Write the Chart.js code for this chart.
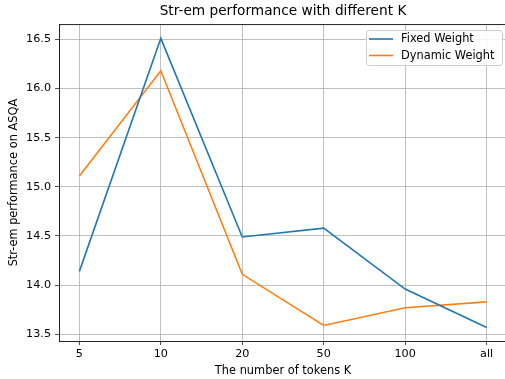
<!DOCTYPE html>
<html>
<head>
<meta charset="utf-8">
<script src="https://cdn.jsdelivr.net/npm/chart.js@4"></script>
<style>
  html, body { margin: 0; padding: 0; background: #fff; }
  #wrap { width: 505px; height: 379px; overflow: hidden; }
</style>
</head>
<body>
<div id="wrap"><canvas id="chart" width="510" height="379"></canvas></div>
<script>
// x categories (number of tokens K)
const kLabels = ['5', '10', '20', '50', '100', 'all'];

// series values
const fixedWeight = [14.14, 16.51, 14.49, 14.58, 13.96, 13.57];
const dynamicWeight = [15.11, 16.18, 14.11, 13.59, 13.77, 13.83];

const yTicks = [13.5, 14.0, 14.5, 15.0, 15.5, 16.0, 16.5];

const font = "'DejaVu Sans', sans-serif";

// top spine + legend in the top right corner, like matplotlib
const framePlugin = {
    id: 'frame',
    afterDraw(chart) {
        const ctx = chart.ctx;
        const a = chart.chartArea;
        ctx.save();
        ctx.strokeStyle = '#222';
        ctx.lineWidth = 1;
        ctx.beginPath();
        ctx.moveTo(a.left, a.top + 0.5);
        ctx.lineTo(a.right, a.top + 0.5);
        ctx.stroke();

        // legend
        const bx = 366, by = 30, bw = 136, bh = 35;
        ctx.fillStyle = 'rgba(255,255,255,0.85)';
        ctx.strokeStyle = '#cccccc';
        ctx.lineWidth = 1;
        ctx.beginPath();
        ctx.roundRect(bx + 0.5, by + 0.5, bw, bh, 3);
        ctx.fill();
        ctx.stroke();
        ctx.font = '11.4px ' + font;
        ctx.textBaseline = 'middle';
        chart.data.datasets.forEach((ds, i) => {
            const y = by + 9 + i * 16.5;
            ctx.strokeStyle = ds.borderColor;
            ctx.lineWidth = 1.6;
            ctx.beginPath();
            ctx.moveTo(bx + 3, y);
            ctx.lineTo(bx + 27, y);
            ctx.stroke();
            ctx.fillStyle = '#000';
            ctx.fillText(ds.label, bx + 35, y + 0.5);
        });
        ctx.restore();
    }
};

const ctx = document.getElementById('chart').getContext('2d');

new Chart(ctx, {
    type: 'line',
    data: {
        datasets: [{
            label: 'Fixed Weight',
            data: fixedWeight.map((v, i) => ({ x: i, y: v })),
            borderColor: '#1f77b4',
            borderWidth: 1.6,
            pointRadius: 0,
            tension: 0
        }, {
            label: 'Dynamic Weight',
            data: dynamicWeight.map((v, i) => ({ x: i, y: v })),
            borderColor: '#ff7f0e',
            borderWidth: 1.6,
            pointRadius: 0,
            tension: 0
        }]
    },
    options: {
        responsive: false,
        animation: false,
        layout: { padding: { left: 0, right: 3, top: 0, bottom: 0 } },
        plugins: {
            legend: { display: false },
            tooltip: { enabled: false },
            title: {
                display: true,
                fullSize: false,
                text: 'Str-em performance with different K',
                color: '#000',
                font: { family: font, size: 13.7, weight: 'normal', lineHeight: 1.1 },
                padding: { top: 4, bottom: 5 }
            }
        },
        scales: {
            x: {
                type: 'linear',
                min: -0.25,
                max: 5.25,
                afterBuildTicks: scale => {
                    scale.ticks = kLabels.map((_, i) => ({ value: i }));
                },
                afterFit: scale => { scale.height = 38; },
                ticks: {
                    color: '#000',
                    font: { family: font, size: 11.2 },
                    padding: 2,
                    maxRotation: 0,
                    callback: v => kLabels[v]
                },
                grid: {
                    color: '#b0b0b0',
                    lineWidth: 0.8,
                    tickColor: '#222',
                    tickLength: 4
                },
                border: { color: '#222', width: 1 },
                title: {
                    display: true,
                    text: 'The number of tokens K',
                    color: '#000',
                    font: { family: font, size: 11.4 },
                    padding: { top: 0, bottom: 1 }
                }
            },
            y: {
                min: 13.432,
                max: 16.655,
                afterBuildTicks: scale => {
                    scale.ticks = yTicks.map(v => ({ value: v }));
                },
                afterFit: scale => { scale.width = 59; },
                ticks: {
                    color: '#000',
                    font: { family: font, size: 11.2 },
                    padding: 4,
                    callback: v => v.toFixed(1)
                },
                grid: {
                    color: '#b0b0b0',
                    lineWidth: 0.8,
                    tickColor: '#222',
                    tickLength: 4
                },
                border: { color: '#222', width: 1 },
                title: {
                    display: true,
                    text: 'Str-em performance on ASQA',
                    color: '#000',
                    font: { family: font, size: 11.4 },
                    padding: { top: 7, bottom: 0 }
                }
            }
        }
    },
    plugins: [framePlugin]
});
</script>
</body>
</html>
